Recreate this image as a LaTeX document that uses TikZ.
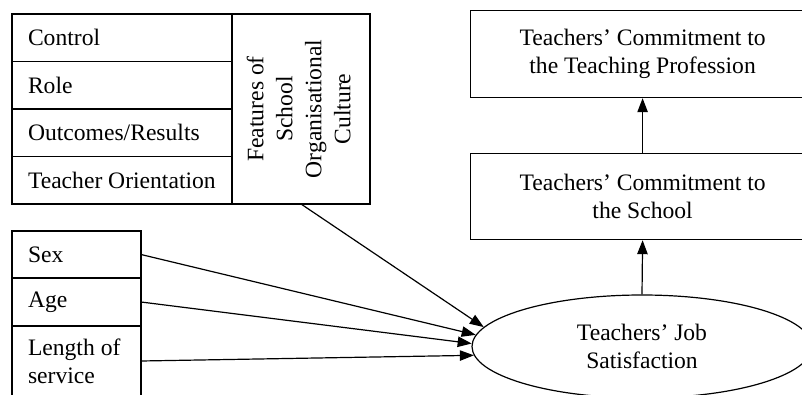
\documentclass[tikz,border=0pt]{standalone}
\usepackage{fontspec}
\setmainfont{Liberation Serif}
\usetikzlibrary{arrows.meta,shapes.geometric}
\begin{document}
\begin{tikzpicture}[x=0.5pt,y=-0.5pt,
  every node/.style={font=\fontsize{11.8}{14}\selectfont},
  lcell/.style={draw, line width=0.6pt, rectangle, anchor=north west, outer sep=0pt,
    inner xsep=8pt, inner ysep=0pt, align=flush left, text width=#1},
  rbox/.style={draw, line width=0.6pt, rectangle, anchor=north west,
    minimum width=172pt, align=center},
  arr/.style={-{Triangle[length=7pt,width=5.2pt]}, line width=0.6pt}]
\path[use as bounding box] (0,0) rectangle (802,395);
\clip (0,0) rectangle (802,395);

% features of school organisational culture
\node[lcell=94pt, minimum height=23.75pt] (ctl) at (12,14) {Control};
\node[lcell=94pt, minimum height=23.75pt] (role) at (12,61.5) {Role};
\node[lcell=94pt, minimum height=23.75pt] (out) at (12,109) {Outcomes/Results};
\node[lcell=94pt, minimum height=23.75pt] (tor) at (12,156.5) {\mbox{Teacher Orientation}};
\node[draw, line width=0.6pt, rectangle, anchor=north west, inner sep=0pt, outer sep=0pt,
  minimum width=69pt, minimum height=95pt] (feat) at (232,14)
  {\rotatebox{90}{\fontsize{11.8}{14.5}\selectfont\begin{tabular}{@{}c@{}}Features of\\School\\Organisational\\Culture\end{tabular}}};

% demographic variables
\node[lcell=48.5pt, minimum height=23.5pt] (sex) at (12,231) {Sex};
\node[lcell=48.5pt, minimum height=24pt] (age) at (12,278) {Age};
\node[lcell=48.5pt, minimum height=35pt] (len) at (12,326) {\mbox{Length of}\\service};

% right column
\node[rbox, minimum height=43.5pt] (prof) at (470,10) {Teachers’ Commitment to\\the Teaching Profession};
\node[rbox, minimum height=43pt] (sch) at (470,153) {Teachers’ Commitment to\\the School};
\node[draw, line width=0.6pt, ellipse, minimum width=170pt, minimum height=51.5pt,
  inner sep=0pt, align=center] (js) at (642,346.5) {Teachers’ Job\\Satisfaction};

% connectors
\draw[arr] (feat.south) -- (js.173);
\draw[arr] (sex.east) -- (js.176.1);
\draw[arr] (age.east) -- (js.179.5);
\draw[arr] (len.east) -- (js.183.9);
\draw[arr] (js.north) -- (sch.south);
\draw[arr] (sch.north) -- (prof.south);
\end{tikzpicture}
\end{document}
